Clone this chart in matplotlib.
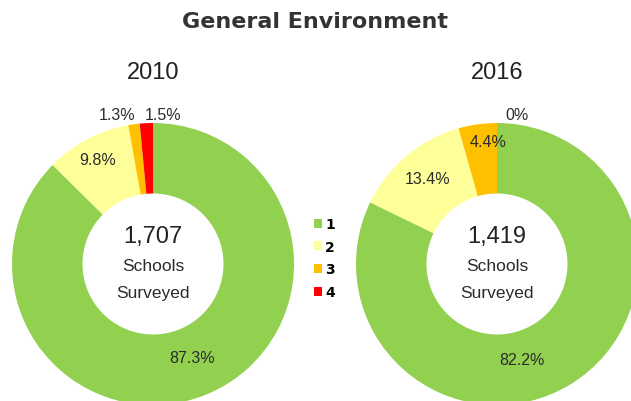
import numpy as np
import matplotlib
matplotlib.use("Agg")
import matplotlib.pyplot as plt
from matplotlib.patches import Patch

# data
categories = ["1", "2", "3", "4"]
years = ["2010", "2016"]
values_2010 = [87.3, 9.8, 1.3, 1.5]
values_2016 = [82.2, 13.4, 4.4, 0.0]
labels_2010 = ["87.3%", "9.8%", "1.3%", "1.5%"]
labels_2016 = ["82.2%", "13.4%", "4.4%", "0%"]
schools = ["1,707", "1,419"]

colors = ["#92D050", "#FFFF99", "#FFC000", "#FF0000"]

# label placement: radius (fraction of outer radius) and angle nudge (deg)
lab_r_2010 = [0.72, 0.84, 1.09, 1.066]
lab_nudge_2010 = [0, 0, 5.6, -6.5]
lab_r_2016 = [0.70, 0.78, 0.868, 1.07]
lab_nudge_2016 = [-17.4, -1, -3.7, -7.5]

W, H = 631, 402
fig = plt.figure(figsize=(W / 100, H / 100), dpi=100)

txt_font = "Liberation Sans"
txt_col = "#2b2b2b"

fig.text(0.5, 1 - 22 / H, "General Environment", ha="center", va="center",
         fontsize=16, fontweight="bold", color="#333333", family="DejaVu Sans")


def donut(cx, cy, R, vals, labs, radii, nudges, year, n):
    ax = fig.add_axes([(cx - R) / W, (H - cy - R) / H, 2 * R / W, 2 * R / H])
    ax.pie(vals, colors=colors, startangle=90, counterclock=False,
           radius=1, wedgeprops=dict(width=0.5, linewidth=0))
    ax.set_xlim(-1, 1)
    ax.set_ylim(-1, 1)
    ax.set_aspect("equal")
    ax.axis("off")

    fr = np.array(vals) / np.sum(vals)
    cum = np.concatenate([[0], np.cumsum(fr)])
    for i in range(len(vals)):
        mid = 90 - 360 * (cum[i] + fr[i] / 2) + nudges[i]
        a = np.deg2rad(mid)
        ax.text(radii[i] * np.cos(a), radii[i] * np.sin(a), labs[i],
                ha="center", va="center", fontsize=11.5, color=txt_col,
                family=txt_font, clip_on=False)

    ax.text(0, 0.2, n, ha="center", va="center", fontsize=17,
            color="#222222", family=txt_font)
    ax.text(0, -0.01, "Schools", ha="center", va="center", fontsize=12.5,
            color=txt_col, family=txt_font)
    ax.text(0, -0.2, "Surveyed", ha="center", va="center", fontsize=12.5,
            color=txt_col, family=txt_font)

    fig.text(cx / W, 1 - 73 / H, year, ha="center", va="center",
             fontsize=17, color="#222222", family=txt_font)


donut(153, 265, 141, values_2010, labels_2010, lab_r_2010, lab_nudge_2010,
      years[0], schools[0])
donut(497, 265, 141, values_2016, labels_2016, lab_r_2016, lab_nudge_2016,
      years[1], schools[1])

handles = [Patch(facecolor=c, edgecolor="none") for c in colors]
fig.legend(handles, categories, loc="upper left",
           bbox_to_anchor=(314 / W, 1 - 218 / H), frameon=False,
           borderpad=0, borderaxespad=0, handlelength=0.6, handleheight=0.6,
           handletextpad=0.2, labelspacing=0.63,
           prop=dict(family="DejaVu Sans", weight="bold", size=10))

fig.savefig("out.png", dpi=100)
